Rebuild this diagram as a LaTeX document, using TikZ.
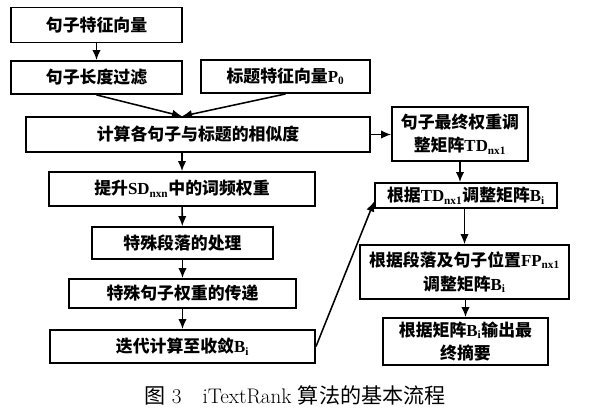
\documentclass[tikz,border=0pt]{standalone}
\usepackage{fontspec}
\newfontfamily\cjk{Noto Sans CJK SC}
\newfontfamily\tms{Liberation Serif}
\usetikzlibrary{calc, positioning, arrows.meta}
\newcommand{\lat}[2]{{\tms\bfseries #1\textsubscript{#2}}}

\begin{document}
\begin{tikzpicture}[x=0.025cm, y=-0.025cm]
	\useasboundingbox (0,0) rectangle (590,416);
	% boxes of the flow, sizes
	\begin{scope}[every node/.style={draw, line width=1.2pt, inner sep=1pt, align=center,
	              font=\cjk\bfseries\fontsize{12}{17}\selectfont}]
	\node [minimum width=4.28cm, minimum height=8.7mm] (feat)  at (96.5,25)   {句子特征向量};
	\node [minimum width=4.28cm, minimum height=8.3mm] (len)   at (96.5,77.5) {句子长度过滤};
	\node [minimum width=4.23cm, minimum height=8.3mm] (title) at (285.5,76.5) {标题特征向量\lat{P}{0}};
	\node [minimum width=8.6cm,  minimum height=8.7mm] (sim)   at (198,134.5) {计算各句子与标题的相似度};
	\node [minimum width=6.65cm, minimum height=8.5mm] (sd)    at (182,189)   {提升\lat{SD}{nxn}中的词频权重};
	\node [minimum width=4.53cm, minimum height=8mm]   (para)  at (182.5,243) {特殊段落的处理};
	\node [minimum width=5.68cm, minimum height=7.3mm] (pass)  at (182.5,293.5) {特殊句子权重的传递};
	\node [minimum width=6.63cm, minimum height=8.3mm] (iter)  at (182.5,346.5) {迭代计算至收敛\lat{B}{i}};
	% right column
	\node [minimum width=3.4cm,  minimum height=13.5mm] (tdw) at (460,134)   {句子最终权重调\\整矩阵\lat{TD}{nx1}};
	\node [minimum width=4.55cm, minimum height=6.3mm]  (adj) at (466,195.5) {根据\lat{TD}{nx1}调整矩阵\lat{B}{i}};
	\node [minimum width=5.23cm, minimum height=13.5mm] (pos) at (464.5,272) {根据段落及句子位置\lat{FP}{nx1}\\调整矩阵\lat{B}{i}};
	\node [minimum width=4.13cm, minimum height=11.8mm] (out) at (465.5,341.5) {根据矩阵\lat{B}{i}输出最\\终摘要};
	\end{scope}

	\coordinate (meet) at (sim.north -| sd);

	\begin{scope}[every path/.style={-{Latex[length=2.5mm, width=2.1mm]}, line width=1.1pt}]
		\draw (feat) -- (len);
		\draw (len.south) -- (meet);
		\draw (title.south) -- (meet);
		\draw (sim.south -| sd) -- (sd);
		\draw (sd) -- (para);
		\draw (para) -- (pass);
		\draw (pass) -- (iter);
		\draw (sim.east) -- (sim.east -| tdw.west);
		\draw (tdw.south) -- (tdw.south |- adj.north);
		\draw (adj.south -| pos) -- (pos);
		\draw (pos.south -| out) -- (out);
		\draw (iter.east) -- ([yshift=-1.5mm]adj.west);
	\end{scope}

	\node [font=\fontsize{15}{17}\selectfont] (cap) at (295,395) {{\cjk 图}~3\quad iTextRank~{\cjk 算法的基本流程}};
\end{tikzpicture}
\end{document}
